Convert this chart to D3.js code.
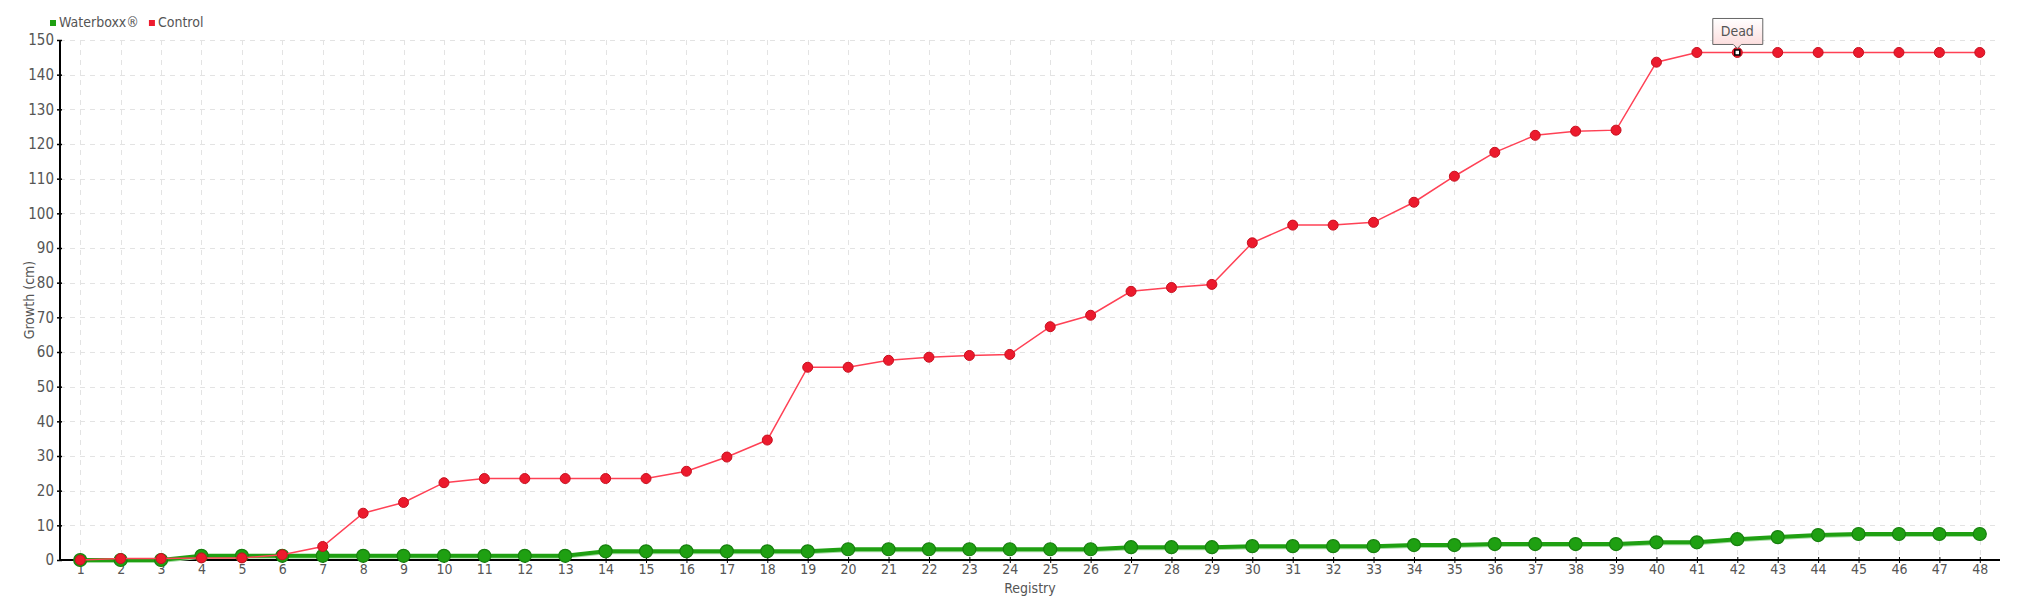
<!DOCTYPE html>
<html>
<head>
<meta charset="utf-8">
<script src="https://cdn.jsdelivr.net/npm/d3@7"></script>
<style>
  body { margin: 0; background: #fff; }
  svg text { font-family: "DejaVu Sans Condensed", "DejaVu Sans", sans-serif; fill: #555; }
</style>
</head>
<body>
<svg width="2020" height="600"></svg>
<script>
const registry = d3.range(1, 49);

const waterboxx = [
  0, 0, 0, 1.2, 1.2, 1.2, 1.2, 1.2, 1.2, 1.2,
  1.2, 1.2, 1.2, 2.5, 2.5, 2.5, 2.5, 2.5, 2.5, 3.1,
  3.1, 3.1, 3.1, 3.1, 3.1, 3.1, 3.7, 3.7, 3.7, 4.0,
  4.0, 4.0, 4.0, 4.3, 4.3, 4.6, 4.6, 4.6, 4.6, 5.1,
  5.1, 6.0, 6.6, 7.2, 7.5, 7.5, 7.5, 7.5
];

const control = [
  0, 0.4, 0.4, 0.6, 0.6, 1.5, 3.9, 13.5, 16.6, 22.3,
  23.5, 23.5, 23.5, 23.5, 23.5, 25.6, 29.7, 34.6, 55.6, 55.6,
  57.6, 58.5, 59.0, 59.3, 67.3, 70.6, 77.5, 78.6, 79.5, 91.5,
  96.6, 96.6, 97.4, 103.2, 110.7, 117.6, 122.5, 123.7, 124.0, 143.6,
  146.4, 146.4, 146.4, 146.4, 146.4, 146.4, 146.4, 146.4
];

const yTicks = d3.range(0, 151, 10);
const legendItems = [
  { name: "Waterboxx®", color: "#1fa012" },
  { name: "Control", color: "#ee1b2e" }
];
const tooltipIndex = 41; // registry 42
const tooltipText = "Dead";

const svg = d3.select("svg");
const margin = { left: 60, right: 20, top: 40, bottom: 40 };
const W = 2020, H = 600;

const x = d3.scalePoint()
  .domain(registry)
  .range([margin.left, W - margin.right])
  .padding(0.5);

const y = d3.scaleLinear()
  .domain([0, 150])
  .range([H - margin.bottom, margin.top]);

// grid
const grid = svg.append("g")
  .attr("stroke", "#e3e3e3")
  .attr("stroke-dasharray", "5,5")
  .attr("stroke-width", 1);

grid.selectAll("line.h")
  .data(yTicks.filter(d => d > 0))
  .join("line")
  .attr("x1", margin.left)
  .attr("x2", W - margin.right)
  .attr("y1", d => Math.round(y(d)) + 0.5)
  .attr("y2", d => Math.round(y(d)) + 0.5);

grid.selectAll("line.v")
  .data(registry)
  .join("line")
  .attr("x1", d => Math.round(x(d)) + 0.5)
  .attr("x2", d => Math.round(x(d)) + 0.5)
  .attr("y1", margin.top)
  .attr("y2", H - margin.bottom);

// axes
const yAxis = svg.append("g")
  .attr("transform", `translate(${margin.left},0)`)
  .call(d3.axisLeft(y).tickValues(yTicks).tickSize(3).tickPadding(3));
yAxis.select(".domain").attr("stroke", "#000").attr("stroke-width", 2).attr("d", `M0,${margin.top}V${H - margin.bottom}`);
yAxis.selectAll(".tick line").attr("stroke", "#000").attr("x2", -3).attr("x1", 2).attr("stroke-width", 1.5);
yAxis.selectAll(".tick text").attr("font-size", 15).style("font-family", null).attr("fill", "#555");

const xAxis = svg.append("g")
  .attr("transform", `translate(0,${H - margin.bottom})`)
  .call(d3.axisBottom(x).tickSize(3).tickPadding(1));
xAxis.select(".domain").attr("stroke", "#000").attr("stroke-width", 2).attr("d", `M${margin.left},0H${W - margin.right}`);
xAxis.selectAll(".tick line").attr("stroke", "#000").attr("y1", -3).attr("y2", 3).attr("stroke-width", 1);
xAxis.selectAll(".tick text").attr("font-size", 14).style("font-family", null).attr("fill", "#555");
svg.selectAll(".domain").attr("fill", "none");

// axis titles
svg.append("text")
  .attr("x", (margin.left + W - margin.right) / 2)
  .attr("y", 593)
  .attr("text-anchor", "middle")
  .attr("font-size", 14)
  .text("Registry");

svg.append("text")
  .attr("transform", `translate(34,${(margin.top + H - margin.bottom) / 2}) rotate(-90)`)
  .attr("text-anchor", "middle")
  .attr("font-size", 14)
  .text("Growth (cm)");

const line = d3.line()
  .x((d, i) => x(registry[i]))
  .y(d => y(d));

// Waterboxx series
svg.append("path")
  .datum(waterboxx)
  .attr("fill", "none")
  .attr("stroke", "#a6dca2")
  .attr("stroke-width", 3)
  .attr("transform", "translate(0,1.5)")
  .attr("d", line);

svg.append("path")
  .datum(waterboxx)
  .attr("fill", "none")
  .attr("stroke", "#1fa012")
  .attr("stroke-width", 4)
  .attr("d", line);

svg.append("g")
  .selectAll("circle")
  .data(waterboxx)
  .join("circle")
  .attr("cx", (d, i) => x(registry[i]))
  .attr("cy", d => y(d))
  .attr("r", 6.5)
  .attr("fill", "#1fa012")
  .attr("stroke", "#17800e")
  .attr("stroke-width", 1.2);

// Control series
svg.append("path")
  .datum(control)
  .attr("fill", "none")
  .attr("stroke", "#ff4155")
  .attr("stroke-width", 1.5)
  .attr("d", line);

svg.append("g")
  .selectAll("circle")
  .data(control)
  .join("circle")
  .attr("cx", (d, i) => x(registry[i]))
  .attr("cy", d => y(d))
  .attr("r", 5)
  .attr("fill", "#ec1a2d")
  .attr("stroke", "#c8101f")
  .attr("stroke-width", 1);

// hovered marker + tooltip
const tx = x(registry[tooltipIndex]);
const ty = y(control[tooltipIndex]);
svg.append("rect")
  .attr("x", tx - 2.5)
  .attr("y", ty - 2.5)
  .attr("width", 5)
  .attr("height", 5)
  .attr("fill", "#fff")
  .attr("stroke", "#000")
  .attr("stroke-width", 1.5);

const defs = svg.append("defs");
const grad = defs.append("linearGradient")
  .attr("id", "tipGrad")
  .attr("x1", 0).attr("y1", 0).attr("x2", 0).attr("y2", 1);
grad.append("stop").attr("offset", "0%").attr("stop-color", "#ffffff");
grad.append("stop").attr("offset", "100%").attr("stop-color", "#fcd9d9");

const bw = 50, bh = 26;
const bx = tx - bw / 2 + 0.5, by = ty - 34;
svg.append("path")
  .attr("d", `M${bx},${by}H${bx + bw}V${by + bh}H${tx + 4}L${tx},${by + bh + 4}L${tx - 4},${by + bh}H${bx}Z`)
  .attr("fill", "url(#tipGrad)")
  .attr("stroke", "#666")
  .attr("stroke-width", 1);

svg.append("text")
  .attr("x", tx)
  .attr("y", by + 18)
  .attr("text-anchor", "middle")
  .attr("font-size", 14)
  .text(tooltipText);

// legend
const legend = svg.append("g").attr("transform", "translate(50,22)");
let lx = 0;
legendItems.forEach(item => {
  legend.append("rect")
    .attr("x", lx)
    .attr("y", -2)
    .attr("width", 6)
    .attr("height", 6)
    .attr("fill", item.color);
  const t = legend.append("text")
    .attr("x", lx + 9)
    .attr("y", 5)
    .attr("font-size", 14)
    .text(item.name);
  lx += t.node().getComputedTextLength() + 19;
});
</script>
</body>
</html>
